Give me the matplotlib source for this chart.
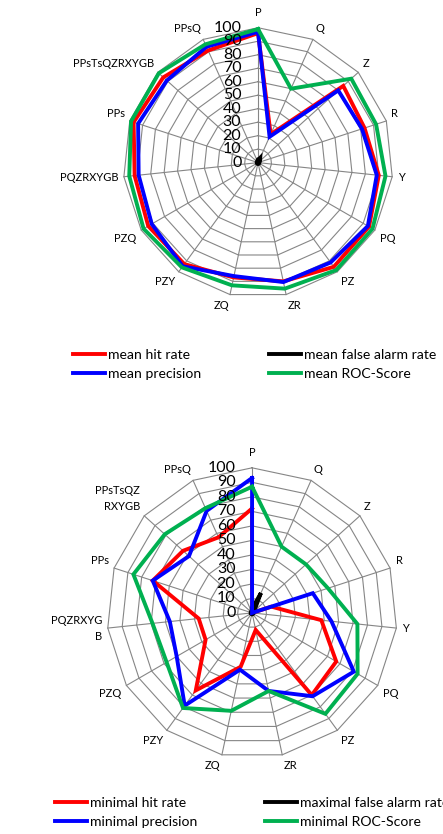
import numpy as np
import matplotlib.pyplot as plt

plt.rcParams['font.family'] = ['Lato', 'DejaVu Sans']

categories = ['P', 'Q', 'Z', 'R', 'Y', 'PQ', 'PZ', 'ZR', 'ZQ', 'PZY', 'PZQ',
              'PQZRXYGB', 'PPs', 'PPsTsQZRXYGB', 'PPsQ']
categories_wrapped = ['P', 'Q', 'Z', 'R', 'Y', 'PQ', 'PZ', 'ZR', 'ZQ', 'PZY', 'PZQ',
                      'PQZRXYG\nB', 'PPs', 'PPsTsQZ\nRXYGB', 'PPsQ']
levels = list(range(0, 101, 10))

# mean values (top chart)
mean_hit = [96, 23, 85, 83, 90, 95, 95.5, 90, 87, 93, 94, 92, 97, 94.5, 91]
mean_far = [2, 4, 2, 1, 1, 1, 1, 1, 1, 1, 1, 1, 1, 1, 1]
mean_prec = [97, 21, 80, 81, 88.5, 94, 91.5, 90.5, 86, 95, 91, 89, 93.5, 91, 94]
mean_roc = [99, 60, 93, 92, 95, 98, 98.5, 95.5, 93, 96, 98, 96, 99, 99, 96]

# minimal / maximal values (bottom chart)
min_hit = [72, 0, 0, 14, 48, 67, 70, 12, 38, 66, 37, 37, 72, 64, 57]
max_far = [3, 15, 2, 1, 1, 1, 1, 1, 1, 1, 1, 1, 1, 1, 1]
min_prec = [93, 0, 0, 44, 55, 81, 71, 55, 40, 79, 60, 57, 72, 58.5, 77]
min_roc = [87, 50, 50, 55, 73, 84, 86, 55, 69, 81, 68, 69, 86, 81, 79]

RED = '#FF0000'
BLUE = '#0000FF'
GREEN = '#00B050'
BLACK = '#000000'
GRID = '#868686'


def radar(ax, labels, series):
    n = len(labels)
    theta = np.linspace(0, 2 * np.pi, n, endpoint=False)
    ax.set_theta_offset(np.pi / 2)
    ax.set_theta_direction(-1)
    ax.set_ylim(0, 100)
    ax.grid(False)
    ax.spines['polar'].set_visible(False)
    ax.set_xticks([])
    ax.set_yticks([])
    closed = np.append(theta, theta[0])
    # polygon grid like excel
    for lv in levels[1:]:
        ax.plot(closed, [lv] * (n + 1), color=GRID, lw=0.8, zorder=1, clip_on=False)
    for t in theta:
        ax.plot([t, t], [0, 100], color=GRID, lw=0.8, zorder=1, clip_on=False)
    for lv in levels:
        ax.annotate(str(lv), xy=(0, lv), xytext=(-12, 0), textcoords='offset points',
                    ha='right', va='center', fontsize=11.5, zorder=5)
    for t, lab in zip(theta, labels):
        s, c = np.sin(t), np.cos(t)
        ha = 'center' if abs(s) < 0.15 else ('left' if s > 0 else 'right')
        va = 'center' if abs(c) < 0.3 else ('bottom' if c > 0 else 'top')
        r = 107 if abs(s) < 0.15 and c > 0 else 104
        ax.text(t, r, lab, ha=ha, va=va, fontsize=8, linespacing=1.6)
    handles = []
    for vals, col, name in series:
        v = np.append(vals, vals[0])
        h, = ax.plot(closed, v, color=col, lw=2.8, zorder=3, clip_on=False,
                     solid_joinstyle='miter', label=name)
        handles.append(h)
    return handles


fig = plt.figure(figsize=(4.43, 8.34), dpi=100)

ax1 = fig.add_axes([0.278, 0.643, 0.609, 0.324], projection='polar')
h1 = radar(ax1, categories, [(mean_hit, RED, 'mean hit rate'),
                             (mean_far, BLACK, 'mean false alarm rate'),
                             (mean_prec, BLUE, 'mean precision'),
                             (mean_roc, GREEN, 'mean ROC-Score')])

ax2 = fig.add_axes([0.2415, 0.0911, 0.655, 0.348], projection='polar')
h2 = radar(ax2, categories_wrapped, [(min_hit, RED, 'minimal hit rate'),
                                     (max_far, BLACK, 'maximal false alarm rate'),
                                     (min_prec, BLUE, 'minimal precision'),
                                     (min_roc, GREEN, 'minimal ROC-Score')])

for hs, x0, y0 in [(h1, 73, 349), (h2, 55, 797)]:
    order = [hs[0], hs[2], hs[1], hs[3]]
    fig.legend(order, [h.get_label() for h in order], loc='upper left',
               bbox_to_anchor=(x0 / 443, 1 - y0 / 834), ncol=2, frameon=False,
               fontsize=10.1, handlelength=2.3, handletextpad=0.2, columnspacing=4.8,
               labelspacing=0.5, borderpad=0, borderaxespad=0)

fig.savefig('out.png', dpi=100)
